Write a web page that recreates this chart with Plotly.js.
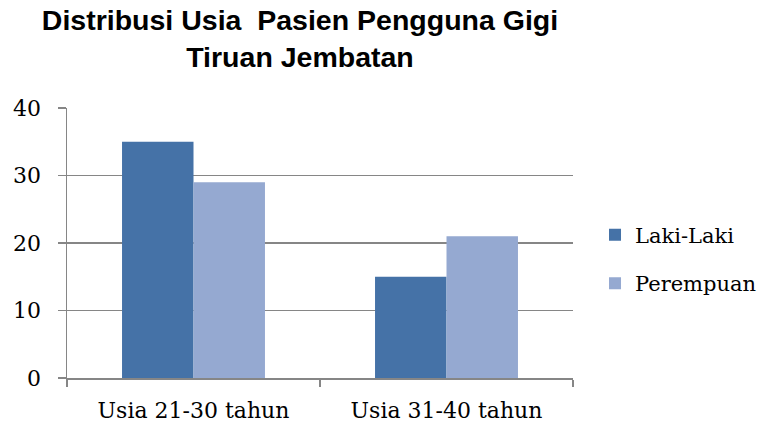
<!DOCTYPE html>
<html>
<head>
<meta charset="utf-8">
<script src="https://cdn.plot.ly/plotly-3.0.1.min.js"></script>
<style>html,body{margin:0;padding:0;background:#fff;}#chart{width:768px;height:426px;}</style>
</head>
<body>
<div id="chart"></div>
<script>
const categories = ["Usia 21-30 tahun", "Usia 31-40 tahun"];
const seriesNames = ["Laki-Laki", "Perempuan"];
const lakiLaki = [35, 15];
const perempuan = [29, 21];
const yTicks = [0, 10, 20, 30, 40];

const serif = "DejaVu Serif, Liberation Serif, serif";
const colors = ["#4572A7", "#95A9D1"];

const data = [
  {type: "bar", x: categories, y: lakiLaki, name: seriesNames[0], marker: {color: colors[0]}, legendgroup: "a"},
  {type: "bar", x: categories, y: perempuan, name: seriesNames[1], marker: {color: colors[1]}, legendgroup: "b"}
];

const layout = {
  width: 768, height: 426,
  margin: {l: 67, r: 195, t: 108, b: 48, autoexpand: false},
  paper_bgcolor: "#fff", plot_bgcolor: "#fff",
  barmode: "group", bargap: 0.435, bargroupgap: 0,
  title: {
    text: "<b>Distribusi Usia  Pasien Pengguna Gigi<br>Tiruan Jembatan</b>",
    font: {family: "Liberation Sans, Arial, sans-serif", size: 28.5, color: "#000"},
    x: 300/768, xanchor: "center", y: 0.93, yanchor: "middle"
  },
  xaxis: {
    type: "category",
    tickson: "boundaries", ticks: "outside", ticklen: 7, tickcolor: "#868686", tickwidth: 1.5,
    showline: true, linecolor: "#868686", linewidth: 1.5,
    showgrid: false,
    ticklabelstandoff: 12,
    tickfont: {family: serif, size: 22, color: "#000"}
  },
  yaxis: {
    range: [0, 40], tickvals: yTicks, ticktext: yTicks.map(String),
    ticks: "outside", ticklen: 8, tickcolor: "#868686", tickwidth: 1.5,
    showline: true, linecolor: "#868686", linewidth: 1.5,
    showgrid: true, gridcolor: "#868686", gridwidth: 1.5,
    zeroline: false,
    ticklabelstandoff: 12,
    tickfont: {family: serif, size: 22, color: "#000"}
  },
  showlegend: true,
  legend: {
    x: 1.0435, xanchor: "left", y: 0.44, yanchor: "middle",
    traceorder: "grouped", tracegroupgap: 18,
    font: {family: serif, size: 21, color: "#000"},
    itemwidth: 30
  }
};

Plotly.newPlot("chart", data, layout, {displayModeBar: false, staticPlot: true});
</script>
</body>
</html>
